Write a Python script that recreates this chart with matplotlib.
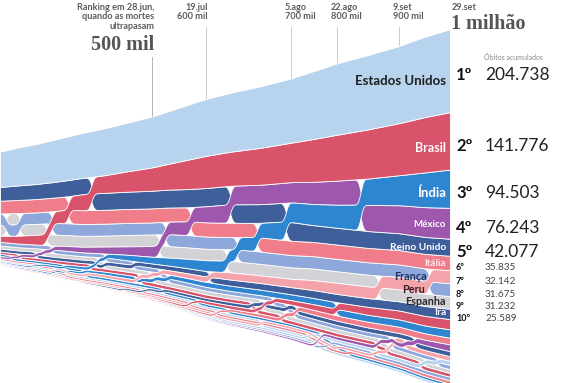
import numpy as np
import pandas as pd
import matplotlib
matplotlib.use("Agg")
import matplotlib.pyplot as plt
from matplotlib import transforms

# cumulative deaths (thousands) at keyframe dates
dates = pd.to_datetime(["2020-05-15", "2020-05-20", "2020-05-25", "2020-05-30", "2020-06-03",
                        "2020-06-08", "2020-06-14", "2020-06-21", "2020-06-28", "2020-07-04",
                        "2020-07-11", "2020-07-19", "2020-07-24", "2020-07-30", "2020-08-05",
                        "2020-08-13", "2020-08-22", "2020-08-31", "2020-09-09", "2020-09-19",
                        "2020-09-29"])

usa = [86.9, 93.4, 98.2, 103.3, 107.2, 111.0, 115.7, 119.9, 125.5, 129.5, 134.6, 140.5, 145.5,
       152.1, 158.6, 167.1, 176.3, 183.6, 190.3, 198.6, 204.738]
brasil = [14.8, 18.9, 23.5, 28.8, 32.5, 39.5, 43.3, 50.6, 57.6, 63.2, 71.5, 79.5, 84.1, 91.3,
          97.3, 105.5, 113.4, 121.4, 128.5, 136.5, 141.776]
india = [2.75, 3.4, 4.2, 5.2, 6.1, 7.2, 9.5, 13.7, 16.5, 19.3, 22.7, 26.5, 28.8, 36.0, 48.5,
         52.0, 56.7, 65.3, 74.0, 85.6, 94.503]
mexico = [5.0, 6.1, 7.4, 9.4, 11.7, 13.7, 16.9, 20.8, 26.6, 30.4, 33.5, 39.5, 45.9, 48.0, 50.0,
          54.7, 59.6, 64.4, 69.1, 73.5, 76.243]
reino_unido = [34.0, 35.8, 37.0, 38.4, 39.7, 40.6, 41.7, 42.6, 43.6, 44.2, 44.8, 45.3, 45.7,
               46.1, 46.4, 41.4, 41.4, 41.5, 41.6, 41.8, 42.077]
italia = [31.6, 32.3, 32.9, 33.3, 33.6, 33.9, 34.3, 34.6, 34.7, 34.8, 34.9, 35.0, 35.1, 35.1,
          35.2, 35.2, 35.4, 35.5, 35.6, 35.7, 35.835]
peru = [2.5, 3.1, 3.6, 4.4, 5.0, 5.9, 6.9, 7.9, 9.1, 10.4, 11.5, 13.2, 17.8, 18.9, 20.4, 24.5,
        27.2, 28.8, 30.3, 31.2, 32.142]
franca = [27.6, 28.0, 28.4, 28.8, 29.0, 29.2, 29.4, 29.6, 29.8, 29.9, 30.0, 30.2, 30.2, 30.3,
          30.3, 30.4, 30.5, 30.6, 30.8, 31.3, 31.675]
espanha = [27.5, 28.2, 27.1, 27.1, 27.1, 27.1, 27.1, 28.3, 28.3, 28.4, 28.4, 28.4, 28.4, 28.5,
           28.5, 28.6, 28.8, 29.1, 29.7, 30.5, 31.232]
ira = [6.9, 7.3, 7.5, 7.7, 8.1, 8.4, 8.8, 9.5, 10.4, 11.4, 12.6, 13.6, 15.1, 16.3, 17.6, 19.5,
       20.6, 21.5, 22.7, 24.3, 25.589]

# smaller countries under the top ten
colombia = [0.55, 0.65, 0.8, 0.9, 1.0, 1.3, 1.6, 2.1, 3.0, 3.8, 5.1, 6.9, 7.9, 9.1, 11.0, 13.5,
            16.5, 19.7, 22.0, 23.8, 25.3]
russia = [2.4, 3.0, 3.5, 4.4, 5.0, 6.0, 7.0, 8.0, 8.9, 9.8, 11.0, 12.3, 13.0, 13.7, 14.6, 15.5,
          16.4, 17.1, 18.1, 19.2, 20.7]
argentina = [0.35, 0.4, 0.45, 0.5, 0.6, 0.7, 0.9, 1.1, 1.3, 1.6, 2.0, 2.5, 3.0, 3.6, 4.3, 5.6,
             7.4, 8.7, 10.4, 13.0, 16.5]
africa_sul = [0.2, 0.3, 0.5, 0.65, 0.8, 1.1, 1.5, 2.0, 2.7, 3.3, 4.1, 5.0, 6.3, 7.8, 9.6, 11.7,
              12.6, 14.1, 15.5, 16.1, 16.7]
chile = [0.4, 0.5, 0.7, 1.0, 1.5, 2.5, 3.4, 4.5, 5.5, 6.4, 7.0, 7.3, 8.3, 9.2, 10.0, 10.3, 10.9,
         11.3, 11.7, 12.1, 12.5]
equador = [2.3, 2.9, 3.2, 3.4, 3.6, 3.8, 4.0, 4.3, 4.5, 4.8, 5.1, 5.3, 5.5, 5.7, 5.8, 6.0, 6.2,
           6.5, 10.9, 11.2, 11.4]
indonesia = [1.1, 1.3, 1.4, 1.6, 1.8, 1.9, 2.2, 2.5, 2.8, 3.2, 3.6, 4.1, 4.5, 5.0, 5.5, 6.0, 6.6,
             7.5, 8.3, 9.4, 10.6]
belgica = [9.0, 9.2, 9.3, 9.4, 9.5, 9.6, 9.7, 9.7, 9.7, 9.8, 9.8, 9.8, 9.8, 9.8, 9.9, 9.9, 9.9,
           9.9, 9.9, 10.0, 10.0]
alemanha = [7.9, 8.2, 8.3, 8.5, 8.6, 8.7, 8.8, 8.9, 9.0, 9.0, 9.1, 9.1, 9.1, 9.2, 9.2, 9.2, 9.3,
            9.3, 9.3, 9.4, 9.5]
canada = [5.6, 6.2, 6.6, 7.0, 7.6, 7.9, 8.1, 8.4, 8.5, 8.7, 8.8, 8.8, 8.9, 8.9, 9.0, 9.0, 9.1,
          9.1, 9.2, 9.2, 9.3]
iraque = [0.1, 0.1, 0.15, 0.2, 0.3, 0.4, 0.7, 1.2, 1.8, 2.4, 3.0, 3.5, 3.9, 4.5, 5.0, 5.6, 6.4,
          7.0, 7.5, 8.3, 9.0]
turquia = [4.0, 4.2, 4.4, 4.5, 4.6, 4.7, 4.8, 5.0, 5.1, 5.2, 5.4, 5.5, 5.6, 5.7, 5.8, 5.9, 6.1,
           6.4, 6.9, 7.6, 8.1]
holanda = [5.6, 5.7, 5.8, 5.9, 6.0, 6.0, 6.1, 6.1, 6.1, 6.1, 6.1, 6.1, 6.1, 6.1, 6.2, 6.2, 6.2,
           6.2, 6.2, 6.3, 6.4]
suecia = [3.6, 3.8, 4.1, 4.4, 4.6, 4.8, 5.0, 5.2, 5.3, 5.4, 5.5, 5.6, 5.7, 5.7, 5.8, 5.8, 5.8,
          5.8, 5.8, 5.9, 5.9]

names = ["Estados Unidos", "Brasil", "Índia", "México", "Reino Unido", "Itália", "Peru", "França",
         "Espanha", "Irã", "Colômbia", "Rússia", "Argentina", "África do Sul", "Chile", "Equador",
         "Indonésia", "Bélgica", "Alemanha", "Canadá", "Iraque", "Turquia", "Holanda", "Suécia"]
series = [usa, brasil, india, mexico, reino_unido, italia, peru, franca, espanha, ira, colombia,
          russia, argentina, africa_sul, chile, equador, indonesia, belgica, alemanha, canada,
          iraque, turquia, holanda, suecia]

LBLUE, RED, BLUE, PURPLE, NAVY = "#b7d3ee", "#d9546b", "#2f86d0", "#9d58ad", "#3f5f9b"
PINK, PERI, GRAY, LPINK = "#f07e8a", "#8fa8dc", "#d2d2d7", "#f4a3ab"
colors = [LBLUE, RED, BLUE, PURPLE, NAVY, PINK, LPINK, PERI, GRAY, NAVY, RED, BLUE, PURPLE,
          PINK, NAVY, LPINK, LBLUE, PERI, GRAY, RED, PERI, PINK, BLUE, LBLUE]

# milestones on the time axis
mile_dates = pd.to_datetime(["2020-06-28", "2020-07-19", "2020-08-05", "2020-08-22",
                             "2020-09-09", "2020-09-29"])
mile_totals = [500, 600, 700, 800, 900, 1000]
mile_px = [152, 206, 291, 337, 399, 450]  # where each milestone sits across the figure
meses = {6: "jun", 7: "jul", 8: "ago", 9: "set"}

W, H = 575, 383
PX_PER_K = 0.405
CENTER_PX = 209

day = (dates - dates[0]).days.values.astype(float)
mday = (mile_dates - dates[0]).days.values.astype(float)

# piecewise time scale, extended linearly on both sides
sd = np.r_[-1000.0, 0.0, mday, mday[-1] + 1000]
sp = np.r_[-1000 * mile_px[0] / mday[0], 0.0, mile_px, mile_px[-1] + 1000 * 51 / 20]
fwd = lambda d: np.interp(d, sd, sp)
inv = lambda p: np.interp(p, sp, sd)

fig = plt.figure(figsize=(W / 100, H / 100), dpi=100)
ax = fig.add_axes([0, 0, mile_px[-1] / W, 1])
ax.set_xscale("function", functions=(fwd, inv))
ax.set_xlim(0, day[-1])
ytop, ybot = CENTER_PX / PX_PER_K, -(H - CENTER_PX) / PX_PER_K
ax.set_ylim(ybot, ytop)
ax.axis("off")


def px2y(p):
    return ytop - p / H * (ytop - ybot)


# ranked, centred stack on a fine grid
gp = np.linspace(0, mile_px[-1], 1801)
tg = inv(gp)
vals = np.array([np.interp(tg, day, s) for s in series])
total = vals.sum(axis=0)
order = np.argsort(-vals, axis=0, kind="stable")
srt = np.take_along_axis(vals, order, axis=0)
tops_sorted = total / 2 - (np.cumsum(srt, axis=0) - srt)
top = np.zeros_like(vals)
np.put_along_axis(top, order, tops_sorted, axis=0)
bot = top - vals


def smooth(y, sigma=9):
    n = 3 * sigma
    k = np.exp(-0.5 * (np.arange(-n, n + 1) / sigma) ** 2)
    k /= k.sum()
    return np.convolve(np.pad(y, n, mode="edge"), k, mode="valid")


stop = np.array([smooth(t) for t in top])
sbot = np.array([smooth(b) for b in bot])
for i in reversed(range(len(series))):
    ax.fill_between(tg, sbot[i], stop[i], facecolor=colors[i], edgecolor="white", lw=0.6,
                    zorder=2)

# milestone lines and labels
SANS = "Lato"
SERIF = "Liberation Serif"
TXT = "#5c5c5c"
for k, (d, tot) in enumerate(zip(mday, mile_totals)):
    stack_top = np.interp(d, tg, stop[0])
    if k == 0:
        ax.plot([d, d], [stack_top, px2y(57)], color="#a8a8a8", lw=0.6, zorder=1)
    elif k < len(mday) - 1:
        ax.plot([d, d], [stack_top, px2y(27)], color="#c4c4c4", lw=0.6, zorder=1)
    dt = mile_dates[k]
    dlabel = f"{dt.day}.{meses[dt.month]}"
    big = f"{tot} mil" if tot < 1000 else "1 milhão"
    if k == 0:
        ax.annotate(f"Ranking em {dlabel},\nquando as mortes\nultrapasam", xy=(d, 1),
                    xycoords=("data", "axes fraction"), xytext=(2, -3),
                    textcoords="offset pixels", ha="right", va="top", fontsize=6.6,
                    fontfamily=SANS, fontweight="bold", color=TXT, linespacing=1.05,
                    annotation_clip=False)
        ax.annotate(big, xy=(d, 1), xycoords=("data", "axes fraction"), xytext=(2, -35),
                    textcoords="offset pixels", ha="right", va="top", fontsize=14.5,
                    fontfamily=SERIF, fontweight="bold", color="#555555",
                    annotation_clip=False)
    elif k == len(mday) - 1:
        ax.annotate(dlabel, xy=(d, 1), xycoords=("data", "axes fraction"), xytext=(2, -3),
                    textcoords="offset pixels", ha="left", va="top", fontsize=6.6,
                    fontfamily=SANS, fontweight="bold", color=TXT,
                    annotation_clip=False)
        ax.annotate(big, xy=(d, 1), xycoords=("data", "axes fraction"), xytext=(1, -14),
                    textcoords="offset pixels", ha="left", va="top", fontsize=14.5,
                    fontfamily=SERIF, fontweight="bold", color="#555555",
                    annotation_clip=False)
    else:
        ha, dx = ("right", 2) if k == 1 else ("left", -6)
        ax.annotate(f"{dlabel}\n{big}", xy=(d, 1), xycoords=("data", "axes fraction"),
                    xytext=(dx, -3), textcoords="offset pixels", ha=ha, va="top",
                    fontsize=6.6, fontfamily=SANS, fontweight="bold", color=TXT,
                    linespacing=1.05, annotation_clip=False)

# names inside the bands
name_ix = int(np.searchsorted(gp, 420))
name_style = {
    "Estados Unidos": (9.5, "#1e1e1e"), "Brasil": (9, "white"), "Índia": (9.5, "white"),
    "México": (7, "white"), "Reino Unido": (7.3, "white"), "Itália": (7, "#fde8ea"),
    "França": (7.8, "#243560"), "Peru": (7.8, "#3a1e2a"), "Espanha": (7.8, "#2a2a2a"),
    "Irã": (7.3, "white"),
}
name_right = {"França": 427, "Peru": 425}
yx = transforms.blended_transform_factory(fig.transFigure, ax.transData)
shift = 4.5 / PX_PER_K  # labels sit slightly below the band middle
for i, nm in enumerate(names[:10]):
    yc = (stop[i][name_ix] + sbot[i][name_ix]) / 2
    fs, col = name_style[nm]
    ax.text(name_right.get(nm, 446) / W, yc - shift * 0.6, nm, transform=yx, ha="right",
            va="center", fontsize=fs, fontfamily=SANS, fontweight="bold", color=col, zorder=5)

# final ranking on the right
fig.text(484 / W, 1 - 57 / H, "Óbitos acumulados", fontsize=5, fontfamily=SANS,
         color="#8a8a8a", va="center")
final = np.array([s[-1] for s in series])
rank = np.argsort(-final)[:10]
for r, i in enumerate(rank, start=1):
    yc = (stop[i][-1] + sbot[i][-1]) / 2 - shift
    num = f"{final[i] * 1000:,.0f}".replace(",", ".")
    if r <= 5:
        ax.text(456 / W, yc, f"{r}º", transform=yx, ha="left", va="center", fontsize=12,
                fontfamily=SANS, fontweight="bold", color="#111111")
        ax.text(485 / W, yc, num, transform=yx, ha="left", va="center", fontsize=12.5,
                fontfamily=SANS, color="#222222")
    else:
        ax.text(456 / W, yc, f"{r}º", transform=yx, ha="left", va="center", fontsize=6.5,
                fontfamily=SANS, fontweight="bold", color="#111111")
        ax.text(485 / W, yc, num, transform=yx, ha="left", va="center", fontsize=7.2,
                fontfamily=SANS, color="#444444")

fig.savefig("out.png", dpi=100)
